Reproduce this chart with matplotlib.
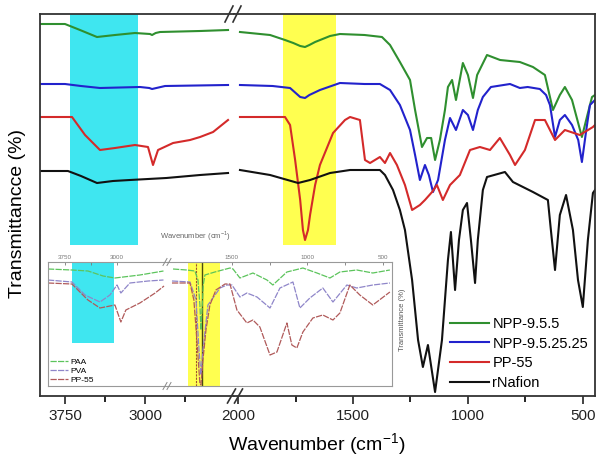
import matplotlib.pyplot as plt
from matplotlib.lines import Line2D

plt.rcParams['font.family'] = ['Liberation Sans', 'DejaVu Sans']
plt.rcParams['mathtext.fontset'] = 'custom'
plt.rcParams['mathtext.rm'] = 'Liberation Sans'

# ---------------- dane: glowny wykres (hi = 4000-2200, lo = 2000-450) ----------------
nafion_wn_hi = [3984, 3722, 3600, 3450, 3300, 3141, 2800, 2484, 2222]
nafion_t_hi = [229, 229, 224, 217, 219, 220, 222, 225, 227]
nafion_wn_lo = [1992, 1861, 1739, 1687, 1600, 1513, 1383, 1361, 1326, 1296,
                1274, 1243, 1217, 1196, 1174, 1143, 1113, 1087, 1074, 1056,
                1039, 1022, 1004, 987, 969, 957, 935, 917, 839, 804,
                717, 652, 639, 621, 600, 573, 543, 521, 500, 478, 456, 447]
nafion_t_lo = [230, 225, 217, 220, 227, 230, 230, 225, 210, 190,
               170, 120, 60, 33, 55, 8, 60, 140, 168, 110,
               160, 190, 197, 160, 117, 160, 210, 223, 228, 218,
               208, 200, 170, 130, 185, 205, 170, 120, 93, 160, 207, 210]

pp55_wn_hi = [3984, 3684, 3562, 3422, 3281, 3094, 2972, 2925, 2878, 2737, 2578, 2484, 2362, 2222]
pp55_t_hi = [283, 283, 265, 250, 252, 255, 253, 235, 250, 257, 260, 263, 268, 280]
pp55_wn_lo = [1992, 1796, 1774, 1752, 1730, 1718, 1709, 1696, 1687, 1665,
              1644, 1587, 1535, 1513, 1470, 1448, 1426, 1383, 1361, 1339,
              1309, 1274, 1243, 1209, 1187, 1156, 1135, 1109, 1078, 1035,
              991, 948, 904, 861, 817, 795, 752, 708, 665, 621,
              578, 513, 456, 447]
pp55_t_lo = [283, 283, 275, 240, 200, 170, 160, 170, 185, 215,
             235, 267, 280, 283, 280, 240, 237, 243, 237, 247,
             235, 215, 190, 195, 200, 208, 215, 200, 215, 225,
             250, 253, 250, 262, 245, 235, 250, 280, 280, 260,
             270, 265, 273, 275]

npp25_wn_hi = [3984, 3750, 3600, 3422, 3047, 2960, 2934, 2812, 2222]
npp25_t_hi = [316, 316, 314, 312, 313, 312, 311, 314, 315]
npp25_wn_lo = [1992, 1850, 1774, 1730, 1709, 1690, 1644, 1557, 1450, 1383,
               1339, 1296, 1252, 1230, 1209, 1187, 1170, 1152, 1130, 1100,
               1078, 1052, 1022, 1000, 978, 957, 935, 900, 817, 774,
               740, 687, 660, 643, 621, 600, 578, 547, 520, 504, 485, 469, 447]
npp25_t_lo = [315, 314, 312, 303, 302, 305, 310, 317, 316, 316,
              310, 295, 270, 245, 220, 235, 225, 208, 220, 260,
              282, 270, 290, 285, 270, 290, 303, 313, 316, 312,
              313, 311, 305, 295, 263, 280, 285, 275, 260, 238, 270, 295, 300]

npp55_wn_hi = [3984, 3750, 3609, 3450, 3281, 3094, 2953, 2934, 2900, 2859, 2484, 2222]
npp55_t_hi = [376, 376, 370, 363, 365, 367, 366, 365, 367, 368, 369, 370]
npp55_wn_lo = [1992, 1861, 1796, 1760, 1730, 1709, 1690, 1665, 1600, 1557,
               1450, 1374, 1339, 1296, 1252, 1230, 1200, 1178, 1160, 1143,
               1122, 1100, 1087, 1069, 1052, 1022, 1000, 978, 960, 917,
               860, 774, 717, 665, 645, 630, 600, 578, 547, 504, 480, 460, 447]
npp55_t_lo = [368, 365, 360, 357, 354, 353, 355, 358, 364, 366,
              365, 363, 355, 338, 320, 290, 253, 262, 262, 240,
              260, 290, 313, 320, 300, 337, 325, 302, 325, 345,
              340, 338, 333, 325, 305, 290, 305, 313, 300, 263, 285, 303, 305]

# ---------------- dane: wstawka ----------------
paa_wn_hi = [3995, 3650, 3419, 3200, 3030, 2670, 2330]
paa_t_hi = [131, 130, 129, 124, 122, 125, 129]
paa_wn_lo = [1890, 1800, 1745, 1725, 1712, 1705, 1698, 1690, 1679, 1613, 1513, 1493,
             1447, 1361, 1268, 1229, 1136, 1030, 937, 851, 785, 673, 567, 454]
paa_t_lo = [131, 130, 129, 120, 95, 70, 90, 115, 125, 128, 132, 131,
            122, 127, 120, 115, 128, 132, 127, 122, 128, 130, 127, 130]

pva_wn_hi = [3995, 3650, 3462, 3246, 3102, 3000, 2944, 2814, 2550, 2330]
pva_t_hi = [120, 118, 105, 98, 105, 115, 107, 117, 119, 120]
pva_wn_lo = [1897, 1778, 1738, 1718, 1705, 1692, 1659, 1579, 1533, 1500, 1447, 1401,
             1334, 1248, 1182, 1096, 1050, 984, 898, 831, 739, 673, 567, 454]
pva_t_lo = [119, 118, 100, 50, 25, 50, 95, 112, 115, 115, 103, 107,
            103, 92, 112, 118, 92, 102, 112, 98, 115, 112, 115, 117]

pp_wn_hi = [3995, 3650, 3419, 3246, 3030, 2944, 2872, 2670, 2450, 2322]
pp_t_hi = [117, 116, 100, 92, 95, 78, 90, 97, 107, 114]
pp_wn_lo = [1897, 1778, 1752, 1732, 1712, 1705, 1692, 1672, 1646, 1606, 1546, 1513,
            1467, 1401, 1361, 1315, 1248, 1202, 1136, 1103, 1070, 1030, 964, 898,
            831, 785, 719, 653, 567, 454]
pp_t_lo = [117, 117, 100, 60, 16, 15, 40, 70, 95, 110, 116, 116,
           90, 77, 80, 73, 45, 48, 77, 55, 52, 68, 82, 85,
           80, 87, 115, 105, 95, 108]

W, H = 602, 468


def box(x0, y0, x1, y1):
    # prostokat w pikselach (od gory) -> ulamek figury
    return [x0 / W, 1 - y1 / H, (x1 - x0) / W, (y1 - y0) / H]


def ukosniki(fig, xc, yc, w, h, gap, color, lw):
    for dx in (-gap / 2, gap / 2):
        x0, x1 = xc + dx - w / 2, xc + dx + w / 2
        fig.add_artist(Line2D([x0 / W, x1 / W], [1 - (yc + h / 2) / H, 1 - (yc - h / 2) / H],
                              color=color, lw=lw, transform=fig.transFigure))


fig = plt.figure(figsize=(6.02, 4.68), dpi=100)

ax1 = fig.add_axes(box(40, 14, 234, 396))
ax2 = fig.add_axes(box(234, 14, 595, 396))

kolory = {'NPP-9.5.5': '#2f8f2f', 'NPP-9.5.25.25': '#2222cc', 'PP-55': '#d42a2a', 'rNafion': '#111111'}
serie = [('NPP-9.5.5', npp55_wn_hi, npp55_t_hi, npp55_wn_lo, npp55_t_lo),
         ('NPP-9.5.25.25', npp25_wn_hi, npp25_t_hi, npp25_wn_lo, npp25_t_lo),
         ('PP-55', pp55_wn_hi, pp55_t_hi, pp55_wn_lo, pp55_t_lo),
         ('rNafion', nafion_wn_hi, nafion_t_hi, nafion_wn_lo, nafion_t_lo)]

ax1.axvspan(3703, 3066, ymin=0.395, ymax=1, color='#3fe6f0', lw=0, zorder=0)
ax2.axvspan(1805, 1574, ymin=0.395, ymax=1, color='#ffff50', lw=0, zorder=0)

for nazwa, xh, yh, xl, yl in serie:
    ax1.plot(xh, yh, color=kolory[nazwa], lw=1.5)
    ax2.plot(xl, yl, color=kolory[nazwa], lw=1.5, label=nazwa)

ax1.set_xlim(3984, 2166)
ax2.set_xlim(2018, 447)
for ax in (ax1, ax2):
    ax.set_ylim(4, 386)
    ax.set_yticks([])
    for s in ax.spines.values():
        s.set_color('#333333')
        s.set_linewidth(1.3)
    ax.tick_params(axis='x', which='major', direction='out', length=6, width=1.2,
                   labelsize=11, pad=3, colors='#222222')
    ax.tick_params(axis='x', which='minor', direction='out', length=4, width=1.2)
ax1.spines['right'].set_visible(False)
ax2.spines['left'].set_visible(False)
ax1.set_xticks([3750, 3000])
ax1.set_xticks([3375, 2625], minor=True)
ax2.set_xticks([2000, 1500, 1000, 500])
ax2.set_xticks([1750, 1250, 750], minor=True)

ax2.legend(loc='upper left', bbox_to_anchor=(450 / W, 1 - 317 / H), bbox_transform=fig.transFigure,
           frameon=False, fontsize=10.5, handlelength=2.7, handletextpad=0.2,
           labelspacing=0.38, borderpad=0, borderaxespad=0)

fig.text(317 / W, 1 - 445 / H, 'Wavenumber (cm$^{-1}$)', ha='center', va='center', fontsize=14)
fig.text(18 / W, 1 - 214 / H, 'Transmittancce (%)', ha='center', va='center', rotation=90, fontsize=14)

ukosniki(fig, 233, 14, 8, 16, 8, '#333333', 1.2)
ukosniki(fig, 235, 396, 8, 14, 7, '#333333', 1.2)

# ---------------- wstawka ----------------
ia1 = fig.add_axes(box(48, 262, 167, 386))
ia2 = fig.add_axes(box(167, 262, 392, 386))

ia1.axvspan(3650, 3045, ymin=0.35, ymax=1, color='#3fe6f0', lw=0, zorder=0)
ia2.axvspan(1791, 1579, color='#ffff50', lw=0, zorder=0)
ia2.axvline(1740, color='#a0522d', lw=0.8, ls=(0, (2, 1)))
ia2.axvline(1699, color='#4a4a10', lw=1.0)

wstawka = [('PAA', '#5cc45c', paa_wn_hi, paa_t_hi, paa_wn_lo, paa_t_lo),
           ('PVA', '#8f86c9', pva_wn_hi, pva_t_hi, pva_wn_lo, pva_t_lo),
           ('PP-55', '#b05a5a', pp_wn_hi, pp_t_hi, pp_wn_lo, pp_t_lo)]
for nazwa, kol, xh, yh, xl, yl in wstawka:
    ia1.plot(xh, yh, color=kol, lw=0.9, ls=(0, (5, 1)), label=nazwa)
    ia2.plot(xl, yl, color=kol, lw=0.9, ls=(0, (5, 1)))

ia1.set_xlim(3995, 2279)
ia2.set_xlim(1930, 440)
for ax in (ia1, ia2):
    ax.set_facecolor('white')
    ax.set_ylim(14, 138)
    ax.set_yticks([])
    ax.xaxis.tick_top()
    for s in ax.spines.values():
        s.set_color('#999999')
        s.set_linewidth(0.8)
    ax.tick_params(axis='x', which='both', direction='in', length=2, width=0.6,
                   labelsize=4.5, pad=1.5, colors='#777777')
ia1.spines['right'].set_visible(False)
ia2.spines['left'].set_visible(False)
ia1.set_xticks([3750, 3000])
ia1.set_xticks([3375], minor=True)
ia2.set_xticks([1500, 1000, 500])
ia2.set_xticks([1250, 750], minor=True)

ia1.legend(loc='lower left', frameon=False, fontsize=6, handlelength=2.2, handletextpad=0.3,
           labelspacing=0.15, borderpad=0.1, borderaxespad=0.1)

fig.text(195 / W, 1 - 236 / H, 'Wavenumber (cm$^{-1}$)', ha='center', va='center', fontsize=5.5, color='#666666')
fig.text(403 / W, 1 - 320 / H, 'Transmittance (%)', ha='center', va='center', rotation=90,
         fontsize=5.5, color='#555555')

ukosniki(fig, 167, 262, 4, 7, 4, '#888888', 0.7)
ukosniki(fig, 167, 386, 4, 7, 4, '#888888', 0.7)

fig.savefig('out.png', dpi=100)
